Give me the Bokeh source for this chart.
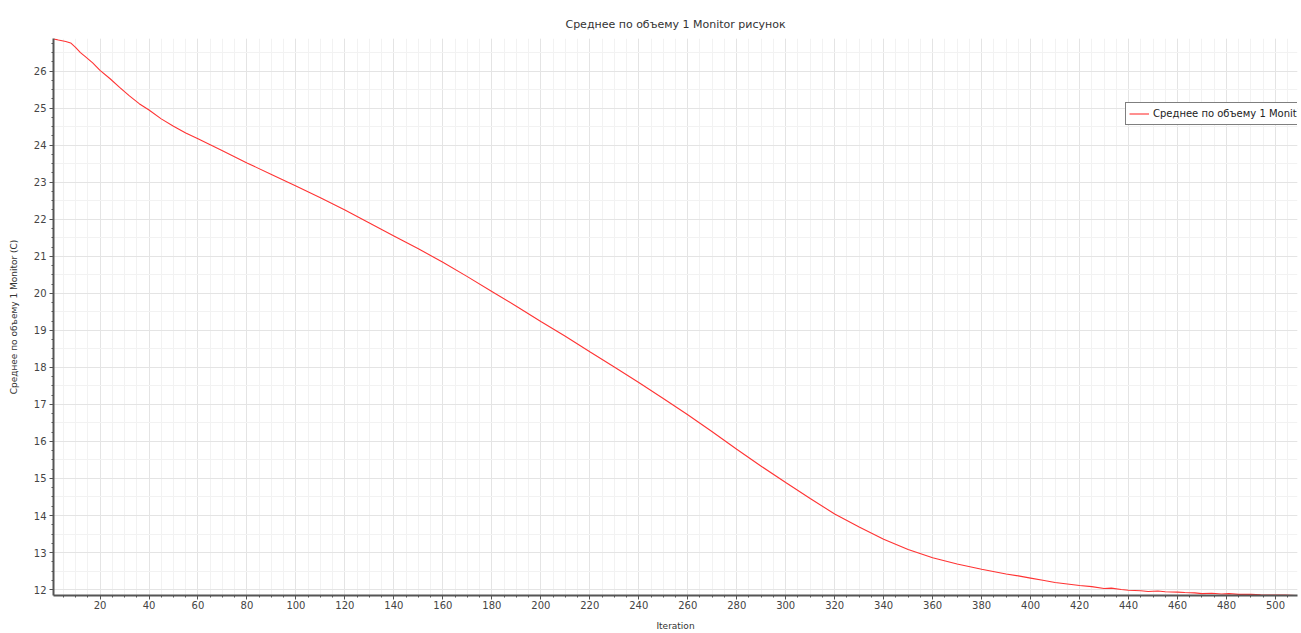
from bokeh.plotting import figure
from bokeh.models import Range1d, SingleIntervalTicker, Legend, LegendItem
from bokeh.embed import file_html
from bokeh.resources import INLINE

# ---- data ----
iterations = [1, 3, 6, 8, 10, 12, 14, 17, 20, 24, 28, 32, 36, 40, 45, 50, 55, 60,
              65, 70, 80, 90, 100, 110, 120, 130, 140, 150, 160, 170, 180, 190, 200,
              210, 220, 230, 240, 250, 260, 270, 280, 290, 300, 310, 320, 330, 340,
              350, 360, 370, 380, 390, 395, 400, 405, 410, 415, 420, 425, 430, 433,
              437, 440, 445, 448, 452, 455, 460, 463, 467, 470, 474, 478, 481, 485,
              490, 494, 500, 504, 508]
values = [26.87, 26.84, 26.80, 26.76, 26.64, 26.50, 26.39, 26.22, 26.02, 25.80, 25.56,
          25.33, 25.12, 24.95, 24.71, 24.51, 24.33, 24.17, 24.01, 23.85, 23.52, 23.21,
          22.90, 22.58, 22.25, 21.90, 21.55, 21.20, 20.84, 20.45, 20.05, 19.65, 19.24,
          18.84, 18.42, 18.01, 17.59, 17.16, 16.72, 16.26, 15.79, 15.33, 14.89, 14.46,
          14.04, 13.69, 13.36, 13.08, 12.86, 12.69, 12.55, 12.42, 12.37, 12.31, 12.25,
          12.19, 12.15, 12.11, 12.08, 12.03, 12.04, 12.00, 11.98, 11.97, 11.95, 11.96,
          11.94, 11.93, 11.92, 11.91, 11.89, 11.90, 11.88, 11.89, 11.87, 11.87, 11.86,
          11.85, 11.85, 11.84]

title_text = "Среднее по объему 1 Monitor рисунок"
series_name = "Среднее по объему 1 Monitor"
x_label = "Iteration"
y_label = "Среднее по объему 1 Monitor (C)"

FONT = "DejaVu Sans"

p = figure(width=1301, height=633, output_backend="svg", toolbar_location=None,
           x_range=Range1d(1, 509), y_range=Range1d(11.84, 26.88),
           min_border_left=53, min_border_right=4, min_border_top=38,
           min_border_bottom=37, title=title_text)
p.background_fill_color = "white"
p.border_fill_color = "white"
p.outline_line_color = None

p.title.align = "center"
p.title.text_font = FONT
p.title.text_font_size = "11px"
p.title.text_font_style = "normal"
p.title.text_color = "#333333"
p.title.standoff = 15

xt = SingleIntervalTicker(interval=20, num_minor_ticks=4)
yt = SingleIntervalTicker(interval=1, num_minor_ticks=4)
p.xaxis.ticker = xt
p.yaxis.ticker = yt
p.xgrid.ticker = xt
p.ygrid.ticker = SingleIntervalTicker(interval=1, num_minor_ticks=2)

for g in (p.xgrid, p.ygrid):
    g.grid_line_color = "#e4e4e4"
    g.grid_line_width = 1
    g.minor_grid_line_color = "#f2f2f2"
    g.minor_grid_line_width = 1

for ax in (p.xaxis, p.yaxis):
    ax.axis_line_color = "#555555"
    ax.axis_line_width = 2
    ax.major_tick_line_color = "#555555"
    ax.minor_tick_line_color = "#555555"
    ax.major_tick_in = 0
    ax.major_tick_out = 4
    ax.minor_tick_in = 0
    ax.minor_tick_out = 2
    ax.major_label_text_font = FONT
    ax.major_label_text_font_size = "10px"
    ax.major_label_text_color = "#444444"
    ax.axis_label_text_font = FONT
    ax.axis_label_text_font_size = "9px"
    ax.axis_label_text_font_style = "normal"
    ax.axis_label_text_color = "#333333"

p.xaxis.axis_label = x_label
p.yaxis.axis_label = y_label
p.xaxis.major_label_standoff = 1
p.xaxis.axis_label_standoff = 9
p.yaxis.major_label_standoff = 3
p.yaxis.axis_label_standoff = 12

line = p.line(iterations, values, line_color="#ff3333", line_width=1.1)

legend = Legend(items=[LegendItem(label=series_name, renderers=[line])],
                location=(1072, 470))
legend.border_line_color = "black"
legend.border_line_width = 1
legend.background_fill_color = "white"
legend.background_fill_alpha = 1
legend.label_text_font = FONT
legend.label_text_font_size = "10px"
legend.label_text_color = "#222222"
legend.padding = 3
legend.margin = 0
legend.spacing = 0
legend.glyph_height = 15
legend.glyph_width = 20
legend.label_height = 15
legend.label_standoff = 4
p.add_layout(legend)

open("out.html", "w").write(file_html(p, INLINE))
